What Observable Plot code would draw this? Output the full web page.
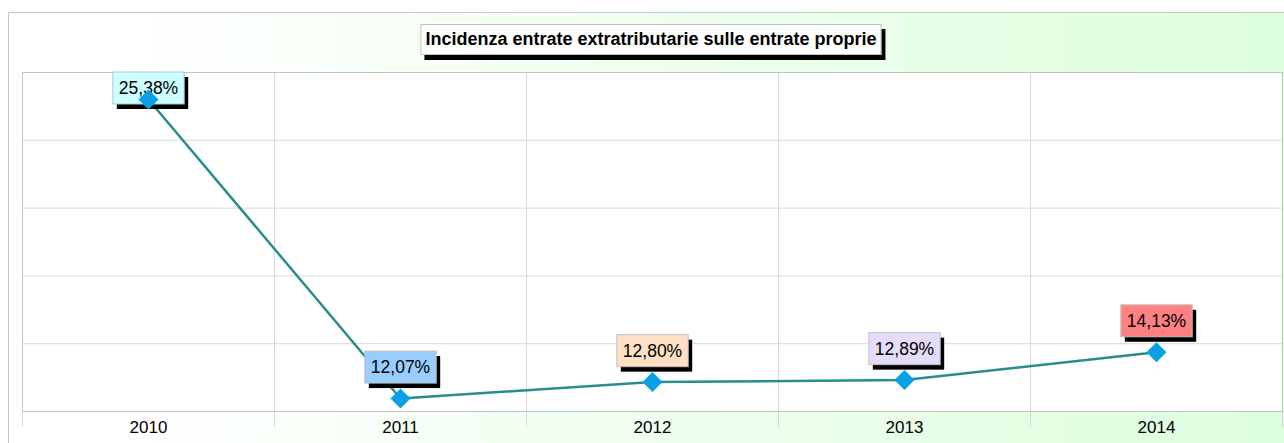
<!DOCTYPE html>
<html><head><meta charset="utf-8">
<script src="https://cdn.jsdelivr.net/npm/d3@7"></script>
<script src="https://cdn.jsdelivr.net/npm/@observablehq/plot@0.6"></script>
<style>
html,body{margin:0;padding:0;background:#fff;}
#wrap{position:relative;width:1284px;height:443px;overflow:hidden;font-family:"Liberation Sans",Arial,sans-serif;}
#panel{position:absolute;left:8px;top:12px;width:1290px;height:440px;border:1px solid #c6c6c6;background:linear-gradient(to right,#ffffff 8%,#dcfedc 100%);}
#chart{position:absolute;left:0;top:0;}
#title{position:absolute;top:24px;left:651px;transform:translateX(-50%);background:#fff;border:1px solid #c0c0c0;box-shadow:4px 5px 0 #000;font-weight:bold;font-size:18px;line-height:21px;padding:4px 4px;white-space:nowrap;color:#000;}
</style></head>
<body>
<div id="wrap">
  <div id="panel"></div>
  <div id="chart"></div>
  <div id="title">Incidenza entrate extratributarie sulle entrate proprie</div>
</div>
<script>
const years = [2010, 2011, 2012, 2013, 2014];
const values = [25.38, 12.07, 12.80, 12.89, 14.13];
const labels = ["25,38%", "12,07%", "12,80%", "12,89%", "14,13%"];
const labelColors = ["#ccffff", "#99ccff", "#ffe0c4", "#e4dcfa", "#ff8080"];
const yDomain = [11.49, 26.58];
const gridCount = 5;

const data = years.map((y, i) => ({year: y, value: values[i], label: labels[i], color: labelColors[i]}));
const gridY = d3.range(gridCount + 1).map(k => yDomain[0] + k * (yDomain[1] - yDomain[0]) / gridCount);
const gridX = years.map(y => y - 0.5).concat([years[years.length - 1] + 0.5]);

const marginTop = 72;
const chart = Plot.plot({
  width: 1284, height: 443,
  marginLeft: 22, marginRight: 2, marginTop: marginTop, marginBottom: 32,
  x: {type: "linear", domain: [gridX[0], gridX[gridX.length - 1]], axis: null},
  y: {domain: yDomain, axis: null},
  style: {background: "transparent", fontFamily: "'Liberation Sans', Arial, sans-serif", fontSize: "15px", color: "#000"},
  marks: [
    Plot.frame({fill: "white"}),
    Plot.ruleY(gridY, {stroke: "#d8d8d8", strokeOpacity: 1}),
    Plot.ruleX(gridX, {stroke: "#d8d8d8", strokeOpacity: 1, insetBottom: -16}),
    Plot.frame({stroke: "#c4c4c4"}),
    Plot.axisX(years, {tickSize: 0, tickPadding: 9.5, tickFormat: d => String(d), fontSize: 17, fill: "#000", label: null}),
    Plot.line(data, {x: "year", y: "value", stroke: "#2b8c8c", strokeWidth: 2.5}),
    Plot.text(data, {x: "year", y: "value", text: "label", dy: -31, fontSize: 17.5, fill: "#000"}),
    Plot.dot(data, {x: "year", y: "value", symbol: "diamond2", r: 9, fill: "#0aa0e6", stroke: "none"})
  ]
});
document.getElementById("chart").appendChild(chart);

// boxes behind data labels
const svgNS = "http://www.w3.org/2000/svg";
const texts = d3.select(chart).selectAll('g[aria-label="text"] text').nodes();
texts.forEach((t, i) => {
  const padX = 6, padY = 6;
  const parent = t.parentNode;
  const pm = parent.getCTM();
  let m = t.getCTM();
  let r = t.getBBox();
  const screenTop = m.f + r.y * m.d - padY;
  if (screenTop < marginTop) {
    const shift = marginTop - screenTop;
    const cur = t.getAttribute("transform") || "";
    t.setAttribute("transform", cur + ` translate(0,${shift})`);
    m = t.getCTM();
    r = t.getBBox();
  }
  const local = pm.inverse().multiply(m);
  const p = chart.createSVGPoint();
  p.x = r.x; p.y = r.y;
  const q = p.matrixTransform(local);
  const bx = q.x - padX, by = q.y - padY, bw = r.width + 2 * padX, bh = r.height + 2 * padY;
  const sh = document.createElementNS(svgNS, "rect");
  sh.setAttribute("x", bx + 4); sh.setAttribute("y", by + 5);
  sh.setAttribute("width", bw); sh.setAttribute("height", bh);
  sh.setAttribute("fill", "#000");
  const box = document.createElementNS(svgNS, "rect");
  box.setAttribute("x", bx); box.setAttribute("y", by);
  box.setAttribute("width", bw); box.setAttribute("height", bh);
  box.setAttribute("fill", labelColors[i]); box.setAttribute("stroke", "#c0c0c0");
  parent.insertBefore(sh, t);
  parent.insertBefore(box, t);
});
</script>
</body></html>
